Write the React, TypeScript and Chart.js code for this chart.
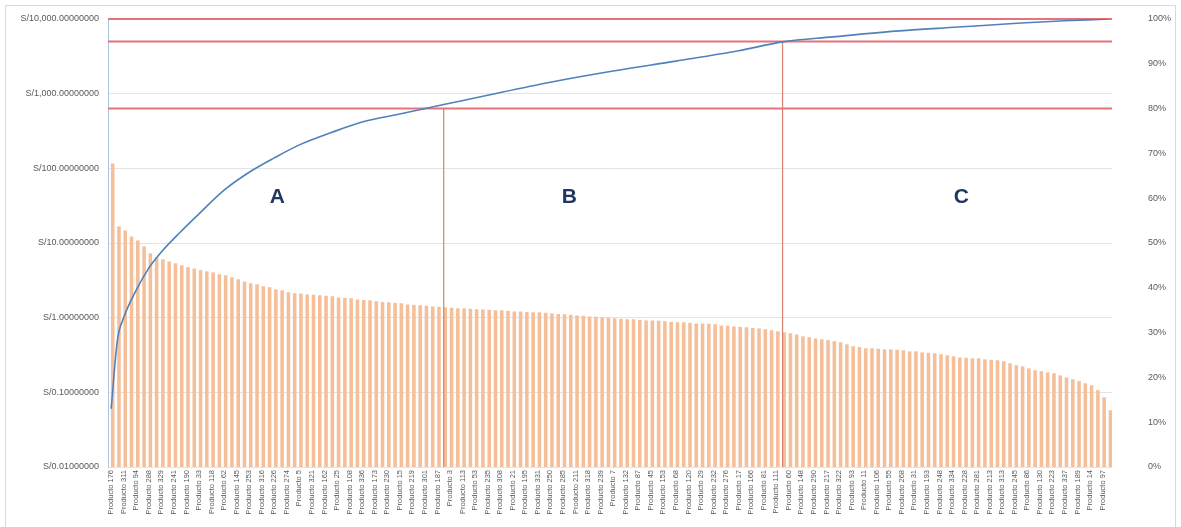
import React, { useEffect, useRef } from "react";
import { Chart, registerables } from "chart.js";

Chart.register(...registerables);

// ---- DATA ----
const productIds = [
  176, 134, 311, 57, 94, 203, 288, 12, 329, 156, 241, 78, 190, 305, 33, 267, 118, 214, 62, 297,
  145, 9, 253, 181, 316, 40, 226, 99, 274, 137, 5, 208, 321, 71, 162, 283, 25, 197, 108, 259,
  336, 84, 173, 48, 230, 292, 15, 150, 219, 66, 301, 127, 187, 244, 3, 279, 113, 325, 53, 169,
  235, 90, 308, 142, 21, 262, 195, 74, 331, 124, 250, 37, 285, 161, 211, 101, 318, 58, 239, 179,
  7, 271, 132, 222, 87, 295, 45, 314, 153, 205, 68, 256, 120, 339, 29, 186, 232, 96, 276, 140,
  17, 303, 166, 247, 81, 327, 111, 200, 60, 264, 148, 2, 290, 128, 217, 43, 322, 174, 93, 258,
  11, 237, 106, 310, 55, 183, 268, 139, 31, 299, 193, 76, 248, 116, 334, 19, 228, 158, 281, 64,
  213, 104, 313, 35, 245, 171, 86, 302, 130, 27, 223, 154, 337, 69, 189, 272, 14, 240, 97, 330,
];
const categories = productIds.map((n) => "Producto " + n);

const barValues = [
  115, 16.5, 14.6, 12.1, 10.7, 8.9, 7.2, 6.4, 6.0, 5.6, 5.3, 5.0, 4.7, 4.5, 4.26, 4.13, 4.0, 3.77, 3.65, 3.43,
  3.23, 3.03, 2.85, 2.77, 2.6, 2.52, 2.37, 2.3, 2.16, 2.1, 2.08, 2.03, 2.0, 1.97, 1.94, 1.91, 1.85, 1.82, 1.8, 1.74,
  1.71, 1.69, 1.64, 1.61, 1.59, 1.56, 1.54, 1.49, 1.47, 1.45, 1.43, 1.4, 1.38, 1.36, 1.34, 1.32, 1.32, 1.3, 1.28, 1.28,
  1.26, 1.24, 1.24, 1.22, 1.2, 1.2, 1.18, 1.17, 1.17, 1.15, 1.13, 1.11, 1.1, 1.08, 1.06, 1.05, 1.03, 1.02, 1.0, 0.985,
  0.97, 0.955, 0.94, 0.94, 0.925, 0.91, 0.91, 0.9, 0.885, 0.87, 0.86, 0.86, 0.845, 0.83, 0.83, 0.82, 0.81, 0.78, 0.77, 0.757,
  0.745, 0.735, 0.72, 0.71, 0.69, 0.67, 0.65, 0.63, 0.61, 0.59, 0.557, 0.54, 0.52, 0.51, 0.495, 0.48, 0.463, 0.435, 0.41, 0.4,
  0.385, 0.385, 0.38, 0.373, 0.373, 0.368, 0.362, 0.35, 0.35, 0.34, 0.335, 0.33, 0.32, 0.31, 0.3, 0.29, 0.287, 0.283, 0.283, 0.274,
  0.27, 0.266, 0.258, 0.242, 0.228, 0.22, 0.207, 0.195, 0.19, 0.183, 0.178, 0.167, 0.157, 0.148, 0.14, 0.131, 0.123, 0.106, 0.085, 0.057,
];

// cumulative % at product positions
const cumIndex = [0, 1, 2, 4, 6, 8, 11, 14, 18, 22, 26, 30, 35, 40, 46, 53, 60, 70, 80, 90, 100, 107, 115, 125, 135, 145, 152, 159];
const cumPct = [13, 28.3, 33.3, 39.5, 44.4, 48, 52.4, 56.5, 61.8, 65.8, 69.0, 71.9, 74.6, 77.0, 78.8, 80.9, 83.0, 85.9, 88.4, 90.6, 92.9, 94.9, 96.0, 97.3, 98.2, 99.1, 99.6, 100];

const thresholds = [100, 95, 80];
const zoneBoundaryIndex = [53, 107];
const zoneBoundaryPct = [80, 95];
const zoneNames = ["A", "B", "C"];
const zoneLabelIndex = [26.5, 73, 135.5];
const zoneLabelPct = [60.3, 60.3, 60.3];

const leftTicks = [0.01, 0.1, 1, 10, 100, 1000, 10000];
const rightMax = 100;
const rightStep = 10;

const FONT = '"Liberation Sans", Arial, sans-serif';
const TEXT = "#595959";

function zeroPad(s: any) {
  s.paddingTop = 0;
  s.paddingBottom = 0;
  s.paddingLeft = 0;
  s.paddingRight = 0;
}

export default function App() {
  const ref = useRef<HTMLCanvasElement | null>(null);

  useEffect(() => {
    const canvas = ref.current;
    if (!canvas) return;
    const N = barValues.length;

    const redSets: any[] = thresholds.map((t) => ({
      type: "line",
      xAxisID: "x2",
      yAxisID: "yPct",
      data: [
        { x: -0.5, y: t },
        { x: N - 0.5, y: t },
      ],
      borderColor: "#e5737a",
      borderWidth: 2,
      pointRadius: 0,
      order: 2,
      clip: false,
    }));
    zoneBoundaryIndex.forEach((b, i) => {
      redSets.push({
        type: "line",
        xAxisID: "x2",
        yAxisID: "yPct",
        data: [
          { x: b, y: zoneBoundaryPct[i] },
          { x: b, y: 0 },
        ],
        borderColor: "#d9826f",
        borderWidth: 1.2,
        pointRadius: 0,
        order: 2,
      });
    });

    const zoneLabels = {
      id: "zoneLabels",
      afterDatasetsDraw(chart: any) {
        const { ctx } = chart;
        const xs = chart.scales.x2;
        const ys = chart.scales.yPct;
        ctx.save();
        ctx.font = "bold 21px " + FONT;
        ctx.fillStyle = "#1f3864";
        ctx.textAlign = "center";
        ctx.textBaseline = "middle";
        zoneNames.forEach((n, i) => {
          ctx.fillText(n, xs.getPixelForValue(zoneLabelIndex[i]), ys.getPixelForValue(zoneLabelPct[i]));
        });
        ctx.restore();
      },
    };

    const chart = new Chart(canvas, {
      type: "bar",
      data: {
        labels: categories,
        datasets: [
          {
            type: "line",
            xAxisID: "x2",
            yAxisID: "yPct",
            data: cumIndex.map((x, i) => ({ x, y: cumPct[i] })),
            borderColor: "#4f81bd",
            borderWidth: 1.6,
            pointRadius: 0,
            cubicInterpolationMode: "monotone",
            order: 1,
          } as any,
          ...redSets,
          {
            type: "bar",
            xAxisID: "x",
            yAxisID: "y",
            data: barValues,
            backgroundColor: "#f5bf9a",
            borderWidth: 0,
            barThickness: "flex",
            barPercentage: 0.93,
            categoryPercentage: 1,
            order: 3,
          },
        ],
      },
      options: {
        animation: false,
        responsive: false,
        devicePixelRatio: 1,
        datasets: { bar: { barThickness: "flex", barPercentage: 0.93, categoryPercentage: 1 } },
        layout: { padding: { top: 19, left: 0, right: 0, bottom: 0 } },
        plugins: { legend: { display: false }, tooltip: { enabled: false } },
        scales: {
          x: {
            type: "category",
            offset: true,
            grid: { display: false, drawTicks: false, offset: true },
            border: { display: false },
            ticks: {
              autoSkip: false,
              maxRotation: 90,
              minRotation: 90,
              padding: 3,
              color: TEXT,
              font: { size: 7.5, family: FONT },
              callback: (_v: any, i: number) => (i % 2 === 0 ? categories[i] : ""),
            },
            afterFit: (s: any) => {
              s.height = 60;
              zeroPad(s);
            },
          },
          x2: {
            type: "linear",
            display: false,
            offset: false,
            min: -0.5,
            max: N - 0.5,
            afterFit: (s: any) => zeroPad(s),
          },
          y: {
            type: "logarithmic",
            position: "left",
            min: leftTicks[0],
            max: leftTicks[leftTicks.length - 1],
            afterBuildTicks: (a: any) => {
              a.ticks = leftTicks.map((v) => ({ value: v }));
            },
            ticks: {
              color: TEXT,
              font: { size: 9, family: FONT },
              padding: 9,
              callback: (v: any) =>
                "S/" +
                Number(v).toLocaleString("en-US", { minimumFractionDigits: 8, maximumFractionDigits: 8 }),
            },
            grid: { color: "#e4e4e4", drawTicks: false },
            border: { display: true, color: "#a9c4e4" },
            afterFit: (s: any) => {
              s.width = 108;
              zeroPad(s);
            },
          },
          yPct: {
            type: "linear",
            position: "right",
            min: 0,
            max: rightMax,
            ticks: {
              stepSize: rightStep,
              color: TEXT,
              font: { size: 9, family: FONT },
              padding: 36,
              callback: (v: any) => v + "%",
            },
            grid: { display: false, drawTicks: false },
            border: { display: false },
            afterFit: (s: any) => {
              s.width = 69;
              zeroPad(s);
            },
          },
        },
      } as any,
      plugins: [zoneLabels],
    });

    return () => chart.destroy();
  }, []);

  return (
    <div style={{ position: "absolute", left: 0, top: 0, width: 1181, height: 527, background: "#fff", overflow: "hidden" }}>
      <div
        style={{
          position: "absolute",
          left: 5,
          top: 5,
          width: 1169,
          height: 540,
          borderLeft: "1px solid #d9d9d9",
          borderTop: "1px solid #d9d9d9",
          borderRight: "1px solid #d9d9d9",
        }}
      />
      <canvas ref={ref} width={1181} height={527} style={{ position: "absolute", left: 0, top: 0, display: "block" }} />
    </div>
  );
}
